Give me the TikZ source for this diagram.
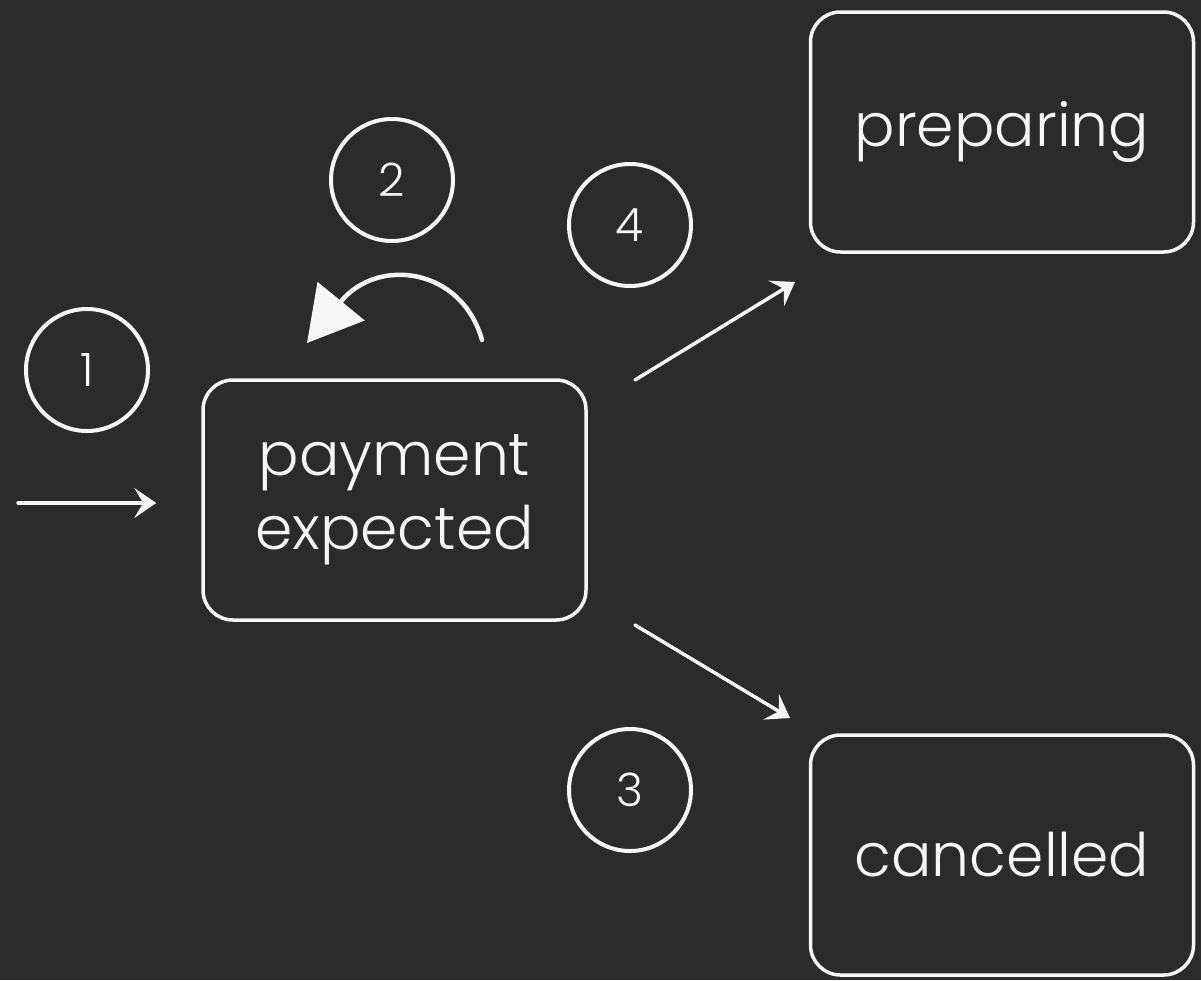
\documentclass[tikz,border=0pt]{standalone}
\usepackage{fontspec}
\setmainfont{Poppins Light}
\usetikzlibrary{arrows.meta}

\begin{document}
\begin{tikzpicture}[x=1pt,y=-1pt]
	\definecolor{BOARD}{RGB}{43,43,43}
	\definecolor{CHALK}{RGB}{246,246,246}
	\tikzset{
		state/.style={draw=CHALK, solid, line join=round, line cap=round, line width=3.5,
			rounded corners=30, minimum width=383, minimum height=240,
			align=center, font=\fontsize{60}{74}\selectfont, text=CHALK},
		bubble/.style={draw=CHALK, circle, line width=4, minimum size=122,
			font=\fontsize{46}{46}\selectfont, text=CHALK},
		chalk/.style={CHALK, solid, line join=round, line cap=round, line width=3.5,
			-{Stealth[length=22,width=30,inset=9]}}
	}
	\fill[BOARD] (0,0) rectangle (1201,980);
	\useasboundingbox (0,0) rectangle (1201,980);
	% states
	\node[state] (pay) at (394.5,500) {payment\\expected};
	\node[state] (prep) at (1002,132) {preparing};
	\node[state] (canc) at (1002,855) {cancelled};
	% step numbers
	\node[bubble] (n1) at (87,370) {1};
	\node[bubble] (n2) at (392,180) {2};
	\node[bubble] (n4) at (630,225) {4};
	\node[bubble] (n3) at (630,790) {3};
	% arrow ends
	\coordinate (entry) at (18,503);
	\coordinate (loopfrom) at (482,340);
	\coordinate (loopto) at (307,343);
	\coordinate (okfrom) at (635,380);
	\coordinate (okto) at (795,282);
	\coordinate (nofrom) at (635,625);
	\coordinate (noto) at (790,718);
	% transitions
	\draw[chalk, shorten >=45] (entry) -- (pay.west |- entry);
	\draw[CHALK, solid, line join=round, line cap=round, line width=4.5,
		-{Triangle[length=54,width=60]}]
	(loopfrom) .. controls (462,268) and (378,256) .. (loopto);
	\draw[chalk] (okfrom) -- (okto);
	\draw[chalk] (nofrom) -- (noto);
\end{tikzpicture}
\end{document}
